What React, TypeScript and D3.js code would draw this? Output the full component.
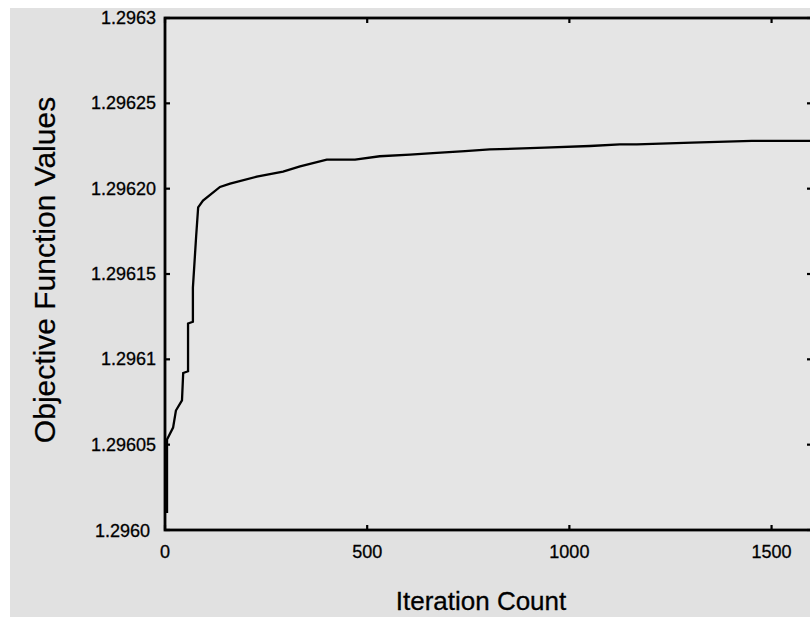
import React from "react";
import * as d3 from "d3";

// Objective function trace
const iterations = [
  5, 5, 20, 27, 42, 45, 57, 57, 69, 69, 77, 82, 94, 136, 161, 227, 292, 334,
  400, 470, 531, 606, 672, 742, 803, 939, 1051, 1125, 1167, 1303, 1451, 1600,
];
const values = [
  1.29601, 1.296053, 1.29606, 1.29607, 1.296076, 1.296092, 1.296093, 1.296121,
  1.296122, 1.296142, 1.296172, 1.296189, 1.296193, 1.296201, 1.296203,
  1.296207, 1.29621, 1.296213, 1.296217, 1.296217, 1.296219, 1.29622,
  1.296221, 1.296222, 1.296223, 1.296224, 1.296225, 1.296226, 1.296226,
  1.296227, 1.296228, 1.296228,
];

const yTicks = [1.296, 1.29605, 1.2961, 1.29615, 1.2962, 1.29625, 1.2963];
const yTickLabels = ["1.2960", "1.29605", "1.2961", "1.29615", "1.29620", "1.29625", "1.2963"];
const xTicks = [0, 500, 1000, 1500];

const App = () => {
  const left = 165;
  const right = 812;
  const top = 18;
  const bottom = 530;
  const font = "'Liberation Sans', Arial, Helvetica, sans-serif";

  const x = d3.scaleLinear().domain([0, 1600]).range([left, right]);
  const y = d3.scaleLinear().domain([1.296, 1.2963]).range([bottom, top]);

  const points: [number, number][] = iterations.map((it, i) => [it, values[i]]);
  const line = d3
    .line<[number, number]>()
    .x((d) => x(d[0]))
    .y((d) => y(d[1]));

  return (
    <svg
      width={810}
      height={619}
      style={{ position: "absolute", left: 0, top: 0, background: "#fff" }}
    >
      {/* panel */}
      <rect x={10} y={8} width={800} height={609} fill="#e1e1e1" />
      <rect x={left} y={top} width={right - left} height={bottom - top} fill="#e5e5e5" />

      {/* curve */}
      <path d={line(points) ?? ""} fill="none" stroke="#000" strokeWidth={2.3} />

      {/* frame */}
      <rect
        x={left}
        y={top}
        width={right - left}
        height={bottom - top}
        fill="none"
        stroke="#000"
        strokeWidth={2.8}
      />

      {/* y ticks (inward, both sides) */}
      {yTicks.map((t, i) => (
        <g key={"y" + i}>
          <line x1={left} x2={left + 5} y1={y(t)} y2={y(t)} stroke="#000" strokeWidth={2.2} />
          <line x1={right} x2={right - 5} y1={y(t)} y2={y(t)} stroke="#000" strokeWidth={2.2} />
          <text
            x={i === 0 ? 150 : 156}
            y={y(t) + (i === 0 ? 1 : 0)}
            textAnchor="end"
            dominantBaseline="central"
            fontFamily={font}
            fontSize={18}
            fill="#000"
            stroke="#000"
            strokeWidth={0.3}
          >
            {yTickLabels[i]}
          </text>
        </g>
      ))}

      {/* x ticks (inward, top and bottom) */}
      {xTicks.map((t) => (
        <g key={"x" + t}>
          <line x1={x(t)} x2={x(t)} y1={bottom} y2={bottom - 5} stroke="#000" strokeWidth={2.2} />
          <line x1={x(t)} x2={x(t)} y1={top} y2={top + 5} stroke="#000" strokeWidth={2.2} />
          <text
            x={x(t)}
            y={558}
            textAnchor="middle"
            fontFamily={font}
            fontSize={18}
            fill="#000"
            stroke="#000"
            strokeWidth={0.3}
          >
            {t}
          </text>
        </g>
      ))}

      {/* axis titles */}
      <text
        x={481}
        y={610}
        textAnchor="middle"
        fontFamily={font}
        fontSize={26}
        fill="#000"
        stroke="#000"
        strokeWidth={0.3}
      >
        Iteration Count
      </text>
      <text
        transform="translate(55,270) rotate(-90)"
        textAnchor="middle"
        fontFamily={font}
        fontSize={30}
        fill="#000"
        stroke="#000"
        strokeWidth={0.2}
      >
        Objective Function Values
      </text>
    </svg>
  );
};

export default App;
